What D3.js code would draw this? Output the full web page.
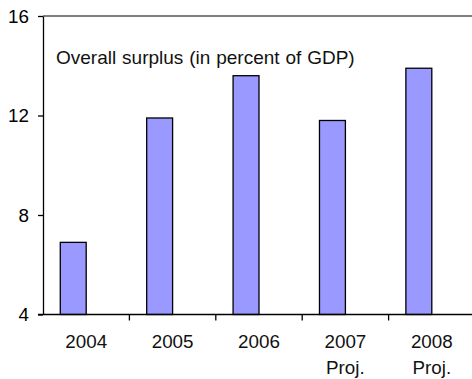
<!DOCTYPE html>
<html>
<head>
<meta charset="utf-8">
<script src="https://cdn.jsdelivr.net/npm/d3@7"></script>
<style>
  html, body { margin: 0; padding: 0; background: #fff; }
  svg { display: block; }
  text { font-family: "Liberation Sans", Arial, sans-serif; fill: #000; }
</style>
</head>
<body>
<svg id="chart" width="472" height="379"></svg>
<script>
// Overall surplus, percent of GDP
const years = ["2004", "2005", "2006", "2007", "2008"];
const subLabels = ["", "", "", "Proj.", "Proj."];
const surplus = [6.9, 11.9, 13.6, 11.8, 13.9];
const yTicks = [4, 8, 12, 16];
const title = "Overall surplus (in percent of GDP)";

const svg = d3.select("#chart");
const fontSize = 18.8;

const plot = { left: 43, top: 16, bottom: 314.5, right: 475 };

const x = d3.scaleBand()
  .domain(years)
  .range([plot.left, plot.right])
  .padding(0);

const y = d3.scaleLinear()
  .domain([4, 16])
  .range([plot.bottom, plot.top]);

const barW = x.bandwidth() * 0.3;

// top frame line
svg.append("line")
  .attr("x1", plot.left).attr("x2", 472)
  .attr("y1", plot.top).attr("y2", plot.top)
  .attr("stroke", "#555").attr("stroke-width", 1.5);

// bars: right edge sits on the band centre
svg.append("g")
  .selectAll("rect")
  .data(years)
  .join("rect")
  .attr("x", (d) => x(d) + x.bandwidth() / 2 - barW)
  .attr("y", (d, i) => y(surplus[i]))
  .attr("width", barW)
  .attr("height", (d, i) => y(4) - y(surplus[i]))
  .attr("fill", "#9999FF")
  .attr("stroke", "#000")
  .attr("stroke-width", 1.3);

// y axis
const yAxis = svg.append("g")
  .attr("transform", `translate(${plot.left},0)`)
  .call(d3.axisLeft(y).tickValues(yTicks).tickSize(5).tickPadding(9).tickSizeOuter(0));
yAxis.select(".domain").attr("stroke", "#000").attr("stroke-width", 1.3);
yAxis.selectAll(".tick line").attr("stroke", "#000").attr("stroke-width", 1.3);
yAxis.selectAll(".tick text")
  .style("font-family", '"Liberation Sans", Arial, sans-serif')
  .style("font-size", fontSize + "px")
  .attr("fill", "#111");

// x axis baseline with ticks at band boundaries
svg.append("line")
  .attr("x1", plot.left - 5).attr("x2", 472)
  .attr("y1", plot.bottom).attr("y2", plot.bottom)
  .attr("stroke", "#000").attr("stroke-width", 1.3);

svg.append("g")
  .selectAll("line")
  .data(years.slice(1))
  .join("line")
  .attr("x1", (d) => x(d)).attr("x2", (d) => x(d))
  .attr("y1", plot.bottom).attr("y2", plot.bottom + 6)
  .attr("stroke", "#000").attr("stroke-width", 1.3);

// category labels
const cat = svg.append("g")
  .selectAll("g")
  .data(years)
  .join("g")
  .attr("transform", (d) => `translate(${x(d) + x.bandwidth() / 2},0)`);

cat.append("text")
  .attr("y", 347.5)
  .attr("text-anchor", "middle")
  .style("font-size", fontSize + "px")
  .style("fill", "#111")
  .text((d) => d);

cat.append("text")
  .attr("y", 373.5)
  .attr("text-anchor", "middle")
  .style("font-size", fontSize + "px")
  .style("fill", "#111")
  .text((d, i) => subLabels[i]);

// chart title inside the plot
svg.append("text")
  .attr("x", 56)
  .attr("y", 63.5)
  .style("font-size", "19px")
  .style("word-spacing", "0.6px")
  .style("fill", "#111")
  .text(title);
</script>
</body>
</html>
